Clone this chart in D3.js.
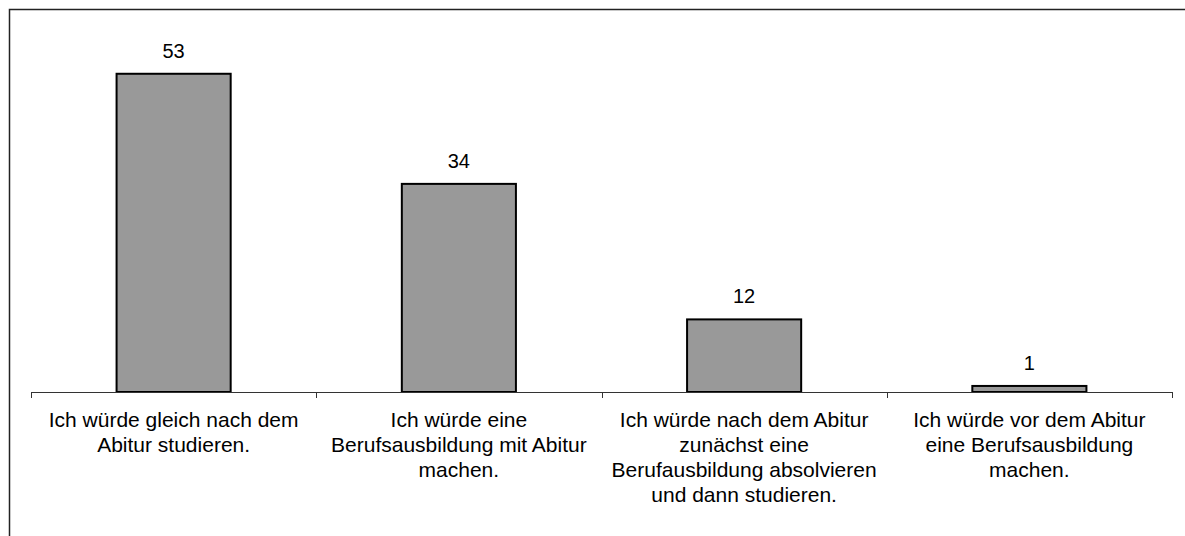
<!DOCTYPE html>
<html>
<head>
<meta charset="utf-8">
<script src="https://cdn.jsdelivr.net/npm/d3@7"></script>
<style>
  body { margin: 0; background: #fff; }
  svg text { font-family: "Liberation Sans", Arial, sans-serif; fill: #000; }
</style>
</head>
<body>
<svg id="chart" width="1185" height="536"></svg>
<script>
// categories (line breaks as in the original labels)
const categories = [
    "Ich würde gleich nach dem|Abitur studieren.",
    "Ich würde eine|Berufsausbildung mit Abitur|machen.",
    "Ich würde nach dem Abitur|zunächst eine|Berufausbildung absolvieren|und dann studieren.",
    "Ich würde vor dem Abitur|eine Berufsausbildung|machen."
];
const values = [52.6, 34.4, 12.0, 1.0];
const valueLabels = ["53", "34", "12", "1"];

const svg = d3.select("#chart");
const width = 1185;
const height = 536;

// outer frame (only top and left edges fall inside the picture)
svg.append("rect")
    .attr("x", 9.5)
    .attr("y", 9.5)
    .attr("width", width + 20)
    .attr("height", height + 20)
    .attr("fill", "none")
    .attr("stroke", "#222")
    .attr("stroke-width", 1.5);

const plot = { left: 31, right: 1172, top: 29, bottom: 392 };

const x = d3.scaleBand()
    .domain(categories)
    .range([plot.left, plot.right])
    .paddingInner(0.6)
    .paddingOuter(0.3);

const y = d3.scaleLinear()
    .domain([0, 60])
    .range([plot.bottom, plot.top]);

const band = (plot.right - plot.left) / categories.length;

// bars
svg.selectAll("rect.bar")
    .data(values)
    .join("rect")
    .attr("class", "bar")
    .attr("x", (d, i) => x(categories[i]))
    .attr("y", d => y(d))
    .attr("width", x.bandwidth())
    .attr("height", d => y(0) - y(d))
    .attr("fill", "#999999")
    .attr("stroke", "#000")
    .attr("stroke-width", 2);

// value labels
svg.selectAll("text.value")
    .data(values)
    .join("text")
    .attr("class", "value")
    .attr("x", (d, i) => x(categories[i]) + x.bandwidth() / 2)
    .attr("y", d => y(d) - 16)
    .attr("text-anchor", "middle")
    .style("font-size", "20px")
    .text((d, i) => valueLabels[i]);

// category axis line + ticks at band boundaries
svg.append("line")
    .attr("x1", plot.left)
    .attr("x2", plot.right)
    .attr("y1", plot.bottom + 0.5)
    .attr("y2", plot.bottom + 0.5)
    .attr("stroke", "#333")
    .attr("stroke-width", 1);

d3.range(categories.length + 1).forEach(i => {
    const tx = Math.round(plot.left + i * band) + 0.5;
    svg.append("line")
        .attr("x1", tx).attr("x2", tx)
        .attr("y1", plot.bottom)
        .attr("y2", plot.bottom + 6)
        .attr("stroke", "#333")
        .attr("stroke-width", 1);
});

// category labels
categories.forEach((c, i) => {
    const t = svg.append("text")
        .attr("x", x(c) + x.bandwidth() / 2)
        .attr("y", 427)
        .attr("text-anchor", "middle")
        .style("font-size", "21px");
    c.split("|").forEach((line, j) => {
        t.append("tspan")
            .attr("x", x(c) + x.bandwidth() / 2)
            .attr("dy", j === 0 ? 0 : 25)
            .text(line);
    });
});
</script>
</body>
</html>
